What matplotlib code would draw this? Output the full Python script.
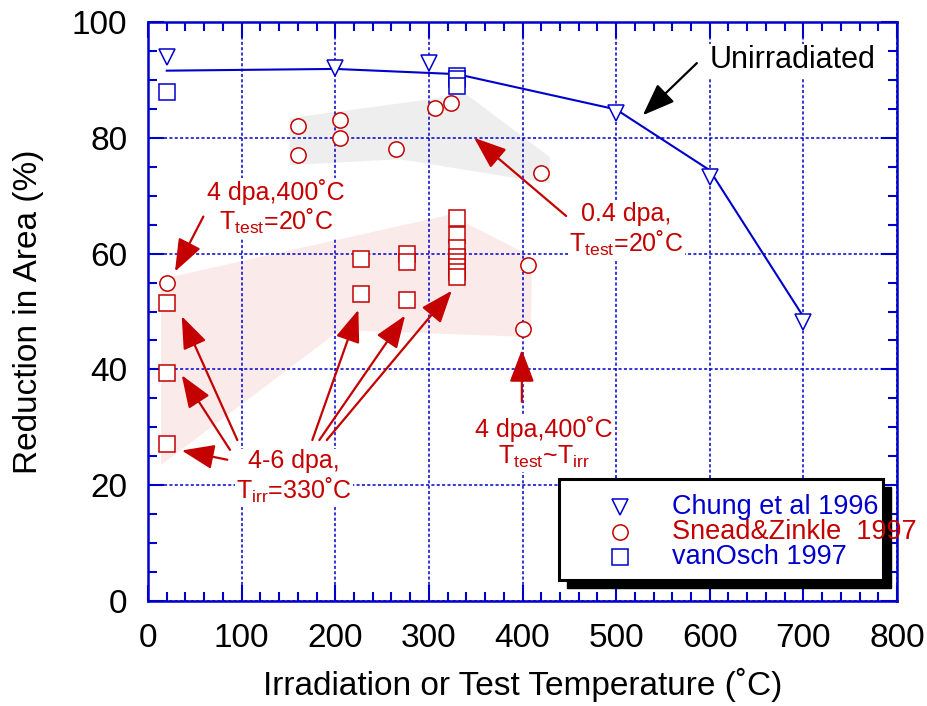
import matplotlib
matplotlib.use("Agg")
import matplotlib.pyplot as plt
from matplotlib.patches import Polygon, Rectangle

plt.rcParams["font.family"] = ["Liberation Sans", "DejaVu Sans"]
plt.rcParams["mathtext.fontset"] = "custom"
plt.rcParams["mathtext.rm"] = "Liberation Sans"
plt.rcParams["mathtext.it"] = "Liberation Sans:italic"

BLUE = "#0000cc"
RED = "#c40000"

# Chung et al 1996 (unirradiated)
chung_T = [20, 200, 300, 500, 600, 700]
chung_RA = [94.0, 92.0, 93.0, 84.3, 73.3, 48.2]

# trend line through the unirradiated data
unirr_T = [20, 200, 330, 500, 600, 700]
unirr_RA = [91.6, 91.9, 91.0, 84.9, 74.4, 49.1]

# Snead & Zinkle 1997
snead_T = [20, 160, 160, 205, 205, 265, 307, 324, 420, 406, 400]
snead_RA = [55.0, 82.1, 77.0, 83.1, 80.0, 78.0, 85.1, 86.1, 73.9, 58.0, 47.0]

# vanOsch 1997 unirradiated
osch_T = [20, 330, 330, 330]
osch_RA = [88.0, 90.7, 90.2, 88.9]

# vanOsch 1997 irradiated 4-6 dpa
osch_irr_T = [20, 20, 20, 228, 228, 277, 277, 277,
              330, 330, 330, 330, 330, 330, 330, 330]
osch_irr_RA = [51.5, 39.4, 27.1, 59.1, 53.0, 60.0, 58.5, 52.0,
               66.2, 63.3, 61.0, 59.4, 58.6, 57.7, 56.9, 55.9]

# shaded bands
gray_T = [151.5, 340, 429, 429, 269, 151.5]
gray_RA = [83.4, 87.5, 76.7, 72.1, 76.3, 75.3]
pink_T = [14, 322, 400, 410, 409, 205, 14]
pink_RA = [55.6, 66.7, 60.3, 57.0, 45.6, 46.8, 23.5]

fig = plt.figure(figsize=(9.28, 7.06), dpi=100)
ax = fig.add_axes([0.1595, 0.1487, 0.8071, 0.8201])

ax.add_patch(Polygon(list(zip(gray_T, gray_RA)), closed=True,
                     facecolor="#eeeeee", edgecolor="none", zorder=0))
ax.add_patch(Polygon(list(zip(pink_T, pink_RA)), closed=True,
                     facecolor="#fbeaea", edgecolor="none", zorder=0))

ax.set_xlim(0, 800)
ax.set_ylim(0, 100)
ax.set_xticks(range(0, 801, 100))
ax.set_xticks(range(0, 801, 20), minor=True)
ax.set_yticks(range(0, 101, 20))
ax.set_yticks(range(0, 101, 5), minor=True)
ax.grid(True, which="major", color=BLUE, linestyle=(0, (2, 1.5)),
        linewidth=1.1, zorder=0.5)
ax.set_axisbelow(True)

for sp in ax.spines.values():
    sp.set_color(BLUE)
    sp.set_linewidth(1.8)
ax.tick_params(which="both", direction="in", top=True, right=True,
               color=BLUE, width=1.5, labelsize=24)
ax.tick_params(which="major", length=11.5)
ax.tick_params(which="minor", length=6.5)
ax.tick_params(axis="x", pad=16)
ax.tick_params(axis="y", pad=15)

ax.set_xlabel("Irradiation or Test Temperature (˚C)", fontsize=24, labelpad=10)
ax.set_ylabel("Reduction in Area (%)", fontsize=24, labelpad=20)

# data
ax.plot(unirr_T, unirr_RA, color=BLUE, linewidth=1.5, zorder=2)
mk = dict(markersize=11, markeredgewidth=1.1, linestyle="none", zorder=3,
          markerfacecolor="white")
ax.plot(chung_T, chung_RA, marker="v", color=BLUE, **mk)
ax.plot(osch_T, osch_RA, marker="s", color=BLUE, **mk)
ax.plot(snead_T, snead_RA, marker="o", color=RED, **mk)
ax.plot(osch_irr_T, osch_irr_RA, marker="s", color=RED, **mk)

# annotations
red_arrow = dict(arrowstyle="-|>,head_length=1.0,head_width=0.38",
                 color=RED, linewidth=1.6, mutation_scale=20,
                 shrinkA=0, shrinkB=0)
arrows = [
    ((59.1, 66.4), (28.8, 56.9)),
    ((446.6, 66.5), (348.3, 80.0)),
    ((399.3, 34.4), (399.3, 43.4)),
    ((95.4, 27.8), (36.0, 49.2)),
    ((87.6, 26.1), (36.0, 39.0)),
    ((84.7, 24.4), (36.0, 26.0)),
    ((175.5, 27.8), (224.7, 50.3)),
    ((183.0, 27.8), (274.6, 49.3)),
    ((190.9, 27.8), (324.5, 53.6)),
]
for tail, tip in arrows:
    ax.annotate("", xy=tip, xytext=tail, arrowprops=red_arrow, zorder=5)

ax.annotate("", xy=(528.5, 83.9), xytext=(586.2, 92.9),
            arrowprops=dict(red_arrow, color="black"), zorder=5)

box = dict(facecolor="white", edgecolor="none", pad=1)
labels = [
    ((136.8, 68.0), "4 dpa,400˚C\nT$_{\\mathrm{test}}$=20˚C"),
    ((510.7, 64.1), "0.4 dpa,\nT$_{\\mathrm{test}}$=20˚C"),
    ((423.1, 27.3), "4 dpa,400˚C\nT$_{\\mathrm{test}}$~T$_{\\mathrm{irr}}$"),
    ((156.0, 21.4), "4-6 dpa,\nT$_{\\mathrm{irr}}$=330˚C"),
]
for (x, y), s in labels:
    ax.text(x, y, s, color=RED, fontsize=18, ha="center", va="center",
            multialignment="center", linespacing=1.1, bbox=box, zorder=4)

ax.text(688, 93.4, "Unirradiated", color="black", fontsize=22,
        ha="center", va="center", bbox=box, zorder=4)

# legend box with black shadow
x0, y0, w, h = 0.5487, 0.0363, 0.4326, 0.1744
ax.add_patch(Rectangle((x0 + 0.0107, y0 - 0.0138), w, h, transform=ax.transAxes,
                       facecolor="black", edgecolor="black", zorder=6,
                       clip_on=False))
ax.add_patch(Rectangle((x0, y0), w, h, transform=ax.transAxes,
                       facecolor="white", edgecolor="black", linewidth=2.2,
                       zorder=7, clip_on=False))
legend_rows = [
    ("v", BLUE, "Chung et al 1996", BLUE, 0.1629),
    ("o", RED, "Snead&Zinkle  1997", RED, 0.1197),
    ("s", BLUE, "vanOsch 1997", BLUE, 0.0755),
]
for m, mc, label, tc, yy in legend_rows:
    ax.plot([0.630], [yy], marker=m, color=mc, markersize=11,
            markeredgewidth=1.1, markerfacecolor="white", linestyle="none",
            transform=ax.transAxes, zorder=8, clip_on=False)
    ax.text(0.699, yy, label, color=tc, fontsize=19.5, ha="left", va="center",
            transform=ax.transAxes, zorder=8, clip_on=False)

fig.savefig("out.png", dpi=100)
